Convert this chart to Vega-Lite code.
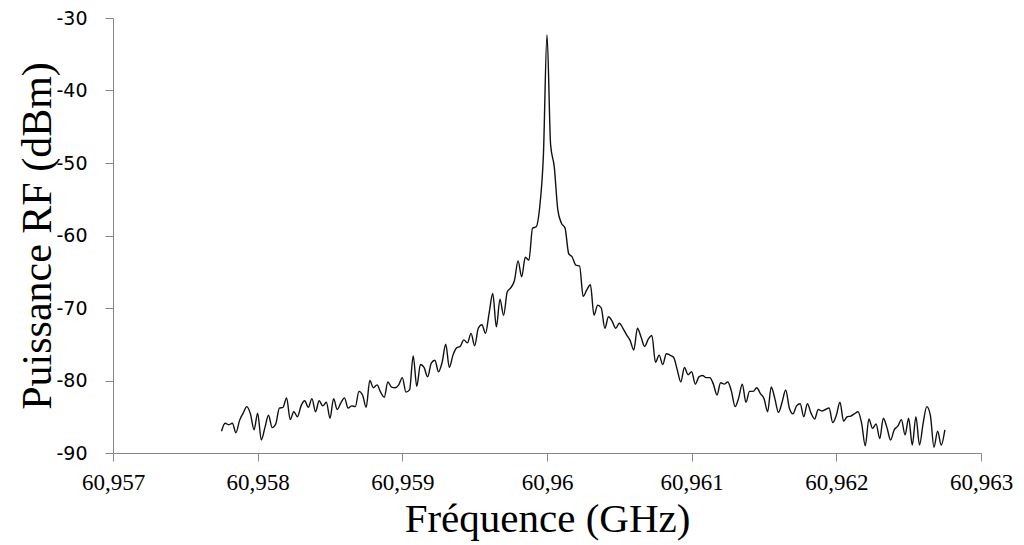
{
  "$schema": "https://vega.github.io/schema/vega-lite/v6.json",
  "autosize": {"type": "none"},
  "width": 868,
  "height": 435,
  "padding": {"left": 113, "top": 18, "right": 43, "bottom": 92},
  "background": "white",
  "config": {"view": {"stroke": null}},
  "data": {"values": [
{"f":60.95775,"p":-87.0},{"f":60.957775,"p":-85.9},{"f":60.9578,"p":-86.1},{"f":60.957825,"p":-85.9},{"f":60.95785,"p":-87.2},{"f":60.957875,"p":-85.5},{"f":60.9579,"p":-84.5},{"f":60.957925,"p":-83.6},{"f":60.95795,"p":-84.6},{"f":60.957975,"p":-86.8},
{"f":60.958,"p":-84.5},{"f":60.958025,"p":-88.2},{"f":60.95805,"p":-86.5},{"f":60.958075,"p":-84.8},{"f":60.9581,"p":-86.5},{"f":60.958125,"p":-86.0},{"f":60.95815,"p":-83.8},{"f":60.958175,"p":-83.7},{"f":60.9582,"p":-82.4},{"f":60.958225,"p":-85.4},
{"f":60.95825,"p":-84.3},{"f":60.958275,"p":-85.0},{"f":60.9583,"p":-83.5},{"f":60.958325,"p":-82.8},{"f":60.95835,"p":-83.7},{"f":60.958375,"p":-82.5},{"f":60.9584,"p":-84.3},{"f":60.958425,"p":-82.8},{"f":60.95845,"p":-83.5},{"f":60.958475,"p":-83.0},
{"f":60.9585,"p":-85.2},{"f":60.958525,"p":-82.5},{"f":60.95855,"p":-84.0},{"f":60.958575,"p":-83.1},{"f":60.9586,"p":-82.4},{"f":60.958625,"p":-83.8},{"f":60.95865,"p":-83.5},{"f":60.958675,"p":-83.6},{"f":60.9587,"p":-81.5},{"f":60.958725,"p":-82.0},
{"f":60.95875,"p":-83.7},{"f":60.958775,"p":-80.0},{"f":60.9588,"p":-81.0},{"f":60.958825,"p":-80.6},{"f":60.95885,"p":-81.6},{"f":60.958875,"p":-82.3},{"f":60.9589,"p":-80.2},{"f":60.958925,"p":-80.9},{"f":60.95895,"p":-81.0},{"f":60.958975,"p":-80.6},
{"f":60.959,"p":-79.6},{"f":60.959025,"p":-81.6},{"f":60.95905,"p":-81.3},{"f":60.959075,"p":-76.6},{"f":60.9591,"p":-80.8},{"f":60.959125,"p":-77.8},{"f":60.95915,"p":-78.2},{"f":60.959175,"p":-79.5},{"f":60.9592,"p":-77.6},{"f":60.959225,"p":-77.2},
{"f":60.95925,"p":-78.8},{"f":60.959275,"p":-77.5},{"f":60.9593,"p":-75.0},{"f":60.959325,"p":-78.2},{"f":60.95935,"p":-76.5},{"f":60.959375,"p":-75.5},{"f":60.9594,"p":-75.3},{"f":60.959425,"p":-74.4},{"f":60.95945,"p":-74.8},{"f":60.959475,"p":-73.5},
{"f":60.9595,"p":-75.2},{"f":60.959525,"p":-72.8},{"f":60.95955,"p":-72.3},{"f":60.959575,"p":-73.5},{"f":60.9596,"p":-70.7},{"f":60.959625,"p":-68.0},{"f":60.95965,"p":-72.6},{"f":60.959675,"p":-68.8},{"f":60.9597,"p":-71.0},{"f":60.959725,"p":-67.8},
{"f":60.95975,"p":-67.2},{"f":60.959775,"p":-66.2},{"f":60.9598,"p":-63.5},{"f":60.959825,"p":-65.7},{"f":60.95985,"p":-63.0},{"f":60.959875,"p":-63.4},{"f":60.9599,"p":-59.0},{"f":60.959925,"p":-58.8},{"f":60.95995,"p":-56.0},{"f":60.959975,"p":-49.0},
{"f":60.96,"p":-32.3},{"f":60.960025,"p":-47.5},{"f":60.96005,"p":-50.5},{"f":60.960075,"p":-56.5},{"f":60.9601,"p":-58.3},{"f":60.960125,"p":-59.0},{"f":60.96015,"p":-62.5},{"f":60.960175,"p":-63.0},{"f":60.9602,"p":-64.1},{"f":60.960225,"p":-64.2},
{"f":60.96025,"p":-68.4},{"f":60.960275,"p":-67.5},{"f":60.9603,"p":-66.8},{"f":60.960325,"p":-71.0},{"f":60.96035,"p":-69.6},{"f":60.960375,"p":-70.0},{"f":60.9604,"p":-72.8},{"f":60.960425,"p":-71.2},{"f":60.96045,"p":-71.8},{"f":60.960475,"p":-72.8},
{"f":60.9605,"p":-72.1},{"f":60.960525,"p":-72.8},{"f":60.96055,"p":-73.7},{"f":60.960575,"p":-74.5},{"f":60.9606,"p":-75.8},{"f":60.960625,"p":-72.8},{"f":60.96065,"p":-74.0},{"f":60.960675,"p":-75.3},{"f":60.9607,"p":-74.3},{"f":60.960725,"p":-73.8},
{"f":60.96075,"p":-77.5},{"f":60.960775,"p":-76.5},{"f":60.9608,"p":-77.8},{"f":60.960825,"p":-76.3},{"f":60.96085,"p":-76.5},{"f":60.960875,"p":-76.8},{"f":60.9609,"p":-78.5},{"f":60.960925,"p":-80.2},{"f":60.96095,"p":-78.2},{"f":60.960975,"p":-79.2},
{"f":60.961,"p":-78.8},{"f":60.961025,"p":-80.5},{"f":60.96105,"p":-79.5},{"f":60.961075,"p":-79.3},{"f":60.9611,"p":-79.6},{"f":60.961125,"p":-79.6},{"f":60.96115,"p":-80.5},{"f":60.961175,"p":-82.0},{"f":60.9612,"p":-80.3},{"f":60.961225,"p":-80.5},
{"f":60.96125,"p":-80.2},{"f":60.961275,"p":-81.5},{"f":60.9613,"p":-83.6},{"f":60.961325,"p":-82.4},{"f":60.96135,"p":-80.5},{"f":60.961375,"p":-83.0},{"f":60.9614,"p":-81.5},{"f":60.961425,"p":-81.5},{"f":60.96145,"p":-81.0},{"f":60.961475,"p":-81.8},
{"f":60.9615,"p":-82.5},{"f":60.961525,"p":-84.3},{"f":60.96155,"p":-80.9},{"f":60.961575,"p":-82.5},{"f":60.9616,"p":-84.4},{"f":60.961625,"p":-83.0},{"f":60.96165,"p":-81.3},{"f":60.961675,"p":-83.8},{"f":60.9617,"p":-84.6},{"f":60.961725,"p":-83.5},
{"f":60.96175,"p":-83.2},{"f":60.961775,"p":-85.0},{"f":60.9618,"p":-83.2},{"f":60.961825,"p":-84.5},{"f":60.96185,"p":-85.3},{"f":60.961875,"p":-84.0},{"f":60.9619,"p":-84.2},{"f":60.961925,"p":-84.0},{"f":60.96195,"p":-83.8},{"f":60.961975,"p":-85.8},
{"f":60.962,"p":-84.8},{"f":60.962025,"p":-83.0},{"f":60.96205,"p":-85.6},{"f":60.962075,"p":-85.0},{"f":60.9621,"p":-84.9},{"f":60.962125,"p":-84.6},{"f":60.96215,"p":-84.3},{"f":60.962175,"p":-85.9},{"f":60.9622,"p":-89.0},{"f":60.962225,"p":-85.3},
{"f":60.96225,"p":-86.6},{"f":60.962275,"p":-86.0},{"f":60.9623,"p":-88.0},{"f":60.962325,"p":-85.2},{"f":60.96235,"p":-86.5},{"f":60.962375,"p":-88.2},{"f":60.9624,"p":-86.8},{"f":60.962425,"p":-86.3},{"f":60.96245,"p":-85.4},{"f":60.962475,"p":-87.5},
{"f":60.9625,"p":-85.2},{"f":60.962525,"p":-88.9},{"f":60.96255,"p":-85.0},{"f":60.962575,"p":-88.9},{"f":60.9626,"p":-85.9},{"f":60.962625,"p":-83.6},{"f":60.96265,"p":-84.8},{"f":60.962675,"p":-89.2},{"f":60.9627,"p":-87.0},{"f":60.962725,"p":-88.9},
{"f":60.96275,"p":-86.8}
  ]},
  "mark": {"type": "line", "color": "#111111", "strokeWidth": 1.4, "interpolate": "monotone", "clip": true},
  "encoding": {
    "x": {
      "field": "f", "type": "quantitative",
      "scale": {"domain": [60.957, 60.963], "nice": false, "zero": false},
      "axis": {
        "values": [60.957, 60.958, 60.959, 60.96, 60.961, 60.962, 60.963],
        "labelExpr": "replace(format(datum.value, '.6~f'), '.', ',')",
        "grid": false,
        "domainColor": "#868686", "tickColor": "#868686", "tickSize": 8, "domainWidth": 1, "tickWidth": 1,
        "labelFont": "Liberation Sans Narrow", "labelFontSize": 23, "labelColor": "#000000", "labelPadding": 10,
        "labelFlush": false,
        "title": "Fréquence (GHz)",
        "titleFont": "Liberation Serif", "titleFontSize": 41, "titleFontWeight": "normal", "titleColor": "#000000",
        "titleBaseline": "alphabetic", "titleY": 78
      }
    },
    "y": {
      "field": "p", "type": "quantitative",
      "scale": {"domain": [-90, -30], "nice": false, "zero": false},
      "axis": {
        "values": [-90, -80, -70, -60, -50, -40, -30],
        "labelExpr": "datum.value + ''",
        "grid": false,
        "domainColor": "#868686", "tickColor": "#868686", "tickSize": 8, "domainWidth": 1, "tickWidth": 1,
        "labelFont": "DejaVu Sans", "labelFontSize": 19, "labelColor": "#000000", "labelPadding": 18,
        "labelFlush": false,
        "title": "Puissance RF (dBm)",
        "titleFont": "Liberation Serif", "titleFontSize": 42, "titleFontWeight": "normal", "titleColor": "#000000",
        "titleBaseline": "alphabetic", "titleX": -63
      }
    }
  }
}
